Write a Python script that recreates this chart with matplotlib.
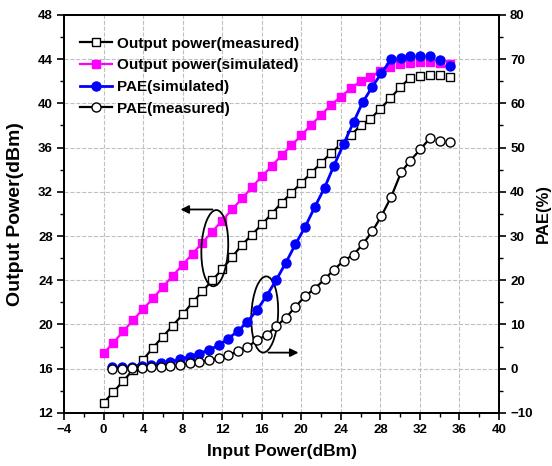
import matplotlib
matplotlib.use('Agg')
import matplotlib.pyplot as plt
from matplotlib.patches import Ellipse
from matplotlib.ticker import MultipleLocator

plt.rcParams['font.family'] = ['Liberation Sans', 'DejaVu Sans']
plt.rcParams['font.weight'] = 'bold'

# input power for the output power curves
pin = [0, 1, 2, 3, 4, 5, 6, 7, 8, 9, 10, 11, 12, 13, 14, 15, 16, 17,
       18, 19, 20, 21, 22, 23, 24, 25, 26, 27, 28, 29, 30, 31, 32, 33, 34, 35]
pout_meas = [12.9, 13.9, 14.9, 15.9, 16.8, 17.9, 18.9, 19.9, 20.9, 22.0, 23.0, 24.0,
             25.0, 26.1, 27.2, 28.1, 29.05, 30.0, 31.0, 31.9, 32.8, 33.7, 34.6, 35.5,
             36.3, 37.1, 38.0, 38.6, 39.5, 40.45, 41.45, 42.3, 42.5, 42.6, 42.6, 42.4]
pout_sim = [17.4, 18.35, 19.4, 20.4, 21.4, 22.35, 23.4, 24.4, 25.4, 26.4, 27.4, 28.4,
            29.4, 30.4, 31.4, 32.4, 33.4, 34.3, 35.3, 36.2, 37.1, 38.05, 38.95, 39.85,
            40.6, 41.35, 42.0, 42.4, 42.9, 43.3, 43.55, 43.65, 43.7, 43.7, 43.65, 43.55]

# input power for the PAE curves
pin_pae = [0.85, 1.85, 2.85, 3.85, 4.8, 5.8, 6.75, 7.75, 8.7, 9.7, 10.7, 11.7,
           12.6, 13.6, 14.55, 15.5, 16.5, 17.45, 18.45, 19.4, 20.4, 21.35, 22.35, 23.3,
           24.3, 25.3, 26.2, 27.2, 28.1, 29.1, 30.1, 31.0, 32.05, 33.0, 34.0, 35.0]
pae_sim = [0.3, 0.3, 0.4, 0.6, 0.8, 1.2, 1.5, 2.1, 2.7, 3.4, 4.3, 5.3, 6.8, 8.5,
           10.6, 13.2, 16.5, 20.0, 24.0, 28.1, 32.1, 36.5, 40.9, 45.9, 50.9, 55.8,
           60.2, 63.8, 66.8, 70.0, 70.2, 70.7, 70.8, 70.8, 69.8, 68.5]
pae_meas = [0.0, 0.0, 0.2, 0.2, 0.4, 0.4, 0.6, 0.8, 1.2, 1.5, 1.9, 2.4, 3.0, 4.0,
            4.9, 6.4, 7.6, 9.6, 11.5, 14.0, 16.4, 18.1, 20.2, 22.4, 24.4, 25.8,
            28.1, 31.1, 34.5, 38.9, 44.4, 47.0, 49.6, 52.1, 51.5, 51.3]

fig = plt.figure(figsize=(5.52, 4.66), dpi=100)
ax = fig.add_axes([0.116, 0.114, 0.788, 0.854])
ax2 = ax.twinx()


def curve(a, x, y, n, color, marker, mfc, ms, lw, label):
    # line only runs through the first n points, the rest are bare markers
    h, = a.plot(x[:n], y[:n], color=color, lw=lw, marker=marker, mfc=mfc,
                mec=color, ms=ms, mew=1.0, label=label)
    a.plot(x[n:], y[n:], ls='none', marker=marker, mfc=mfc, mec=color, ms=ms, mew=1.0)
    return h


h1 = curve(ax, pin, pout_meas, 32, 'black', 's', 'white', 6, 1.6, 'Output power(measured)')
h2 = curve(ax, pin, pout_sim, 29, '#ff00ff', 's', '#ff00ff', 6, 1.6, 'Output power(simulated)')
h3 = curve(ax2, pin_pae, pae_sim, 30, '#0000ff', 'o', '#0000ff', 6.5, 2.0, 'PAE(simulated)')
h4 = curve(ax2, pin_pae, pae_meas, 34, 'black', 'o', 'white', 6.5, 1.6, 'PAE(measured)')

ax.set_xlim(-4, 40)
ax.set_ylim(12, 48)
ax2.set_ylim(-10, 80)
ax.xaxis.set_major_locator(MultipleLocator(4))
ax.xaxis.set_minor_locator(MultipleLocator(2))
ax.yaxis.set_major_locator(MultipleLocator(4))
ax.yaxis.set_minor_locator(MultipleLocator(2))
ax2.yaxis.set_major_locator(MultipleLocator(10))
ax2.yaxis.set_minor_locator(MultipleLocator(5))

ax.grid(True, which='major', ls='--', color='#c0c0c0', lw=0.8)
ax.set_axisbelow(True)

for a in (ax, ax2):
    a.tick_params(which='major', direction='out', length=5, width=1.2, labelsize=9.5, pad=3)
    a.tick_params(which='minor', direction='out', length=3, width=1.0)
    for s in a.spines.values():
        s.set_linewidth(1.3)
    for lab in a.get_xticklabels() + a.get_yticklabels():
        lab.set_fontweight('bold')

ax.set_xlabel('Input Power(dBm)', fontsize=12.5, fontweight='bold', labelpad=6)
ax.set_ylabel('Output Power(dBm)', fontsize=14, fontweight='bold', labelpad=10)
ax2.set_ylabel('PAE(%)', fontsize=12, fontweight='bold', labelpad=2)

# ellipses + arrows marking which axis each pair belongs to
ax.add_patch(Ellipse((11.25, 26.9), 2.7, 6.9, angle=-3, fill=False, ec='black', lw=1.3, zorder=5))
ax.annotate('', xy=(7.5, 30.4), xytext=(11.3, 30.4),
            arrowprops=dict(arrowstyle='-|>', color='black', lw=1.3, mutation_scale=12))
ax.add_patch(Ellipse((16.3, 20.9), 2.7, 6.9, angle=-3, fill=False, ec='black', lw=1.3, zorder=5))
ax.annotate('', xy=(20.0, 17.45), xytext=(16.4, 17.45),
            arrowprops=dict(arrowstyle='-|>', color='black', lw=1.3, mutation_scale=12))

leg = ax2.legend(handles=[h1, h2, h3, h4], loc='upper left', bbox_to_anchor=(0.005, 0.98),
                 frameon=False, numpoints=1, handlelength=2.1, handletextpad=0.3,
                 labelspacing=0.5, prop={'weight': 'bold', 'size': 11})

fig.savefig('out.png', dpi=100)
